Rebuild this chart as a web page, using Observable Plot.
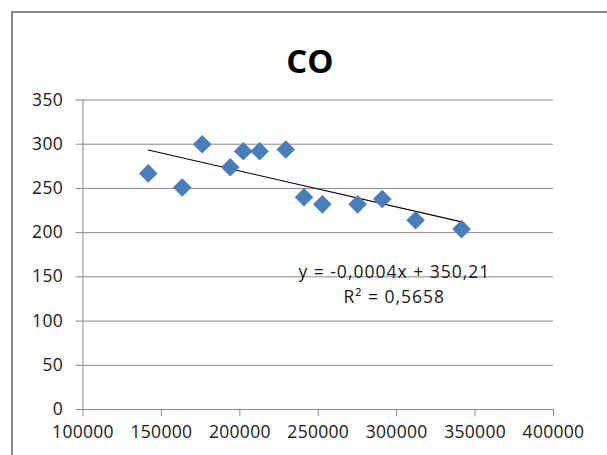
<!DOCTYPE html>
<html>
<head>
<meta charset="utf-8">
<script src="https://cdn.jsdelivr.net/npm/d3@7"></script>
<script src="https://cdn.jsdelivr.net/npm/@observablehq/plot@0.6"></script>
<style>
  html, body { margin: 0; padding: 0; background: #fff; overflow: hidden; width: 607px; height: 455px; }
  #frame { position: absolute; left: 11px; top: 11px; width: 700px; height: 500px; border: 2px solid #8a8a8a; box-sizing: border-box; }
  #title { position: absolute; left: 0; top: 44px; width: 620px; text-align: center; font-family: "Open Sans", sans-serif; font-weight: bold; font-size: 33px; line-height: 33px; color: #000; }
  #chart { position: absolute; left: 0; top: 80px; }
</style>
</head>
<body>
<div id="frame"></div>
<div id="title"></div>
<div id="chart"></div>
<script>
// ---- data ----
const titleText = "CO";
const xValues = [141600, 163300, 176000, 193900, 202200, 212600, 229300, 240900, 252600, 275100, 290800, 312100, 341400];
const yValues = [267, 251, 300, 274, 292, 292, 294, 240, 232, 232, 238, 214, 204];
const xTicks = [100000, 150000, 200000, 250000, 300000, 350000, 400000];
const yTicks = [0, 50, 100, 150, 200, 250, 300, 350];
const equationLabel = "y = -0,0004x + 350,21";
const r2Label = "R² = 0,5658";

const points = xValues.map((x, i) => ({x, y: yValues[i]}));

document.getElementById("title").textContent = titleText;

const gridColor = "#8a8a8a";
const chart = Plot.plot({
  width: 607,
  height: 375,
  marginLeft: 82.5,
  marginRight: 54,
  marginTop: 19.5,
  marginBottom: 46,
  style: { fontFamily: "'Open Sans', sans-serif", fontSize: "17.5px", color: "#1a1a1a", background: "transparent", overflow: "visible", letterSpacing: "0.3px" },
  x: { domain: [xTicks[0], xTicks[xTicks.length - 1]] },
  y: { domain: [yTicks[0], yTicks[yTicks.length - 1]] },
  marks: [
    Plot.ruleY(yTicks.filter(d => d > 0), { stroke: gridColor, strokeWidth: 1 }),
    Plot.ruleX([xTicks[0]], { y1: yTicks[0], y2: yTicks[yTicks.length - 1], stroke: gridColor }),
    Plot.ruleY([yTicks[0]], { stroke: gridColor }),
    Plot.axisY({ ticks: yTicks, tickFormat: d => String(d), tickSize: 7, tickPadding: 13, stroke: gridColor, strokeOpacity: 1, fill: "#1a1a1a", label: null }),
    Plot.axisX({ ticks: xTicks, tickFormat: d => String(d), tickSize: 7, tickPadding: 9, stroke: gridColor, strokeOpacity: 1, fill: "#1a1a1a", label: null }),
    Plot.linearRegressionY(points, { x: "x", y: "y", stroke: "#000", strokeWidth: 1.1, ci: 0 }),
    Plot.dot(points, { x: "x", y: "y", symbol: "diamond2", r: 8.4, fill: "#4A7EBB", stroke: "none" }),
    Plot.text([equationLabel + "\n" + r2Label], { x: 298500, y: 168, text: d => d, lineAnchor: "top", lineHeight: 1.4, textAnchor: "middle", fill: "#1a1a1a", fontSize: 17.5 })
  ]
});
chart.querySelectorAll("text").forEach(t => {
  if (t.textContent.includes("=")) t.setAttribute("letter-spacing", "1px");
});
document.getElementById("chart").appendChild(chart);
</script>
</body>
</html>
